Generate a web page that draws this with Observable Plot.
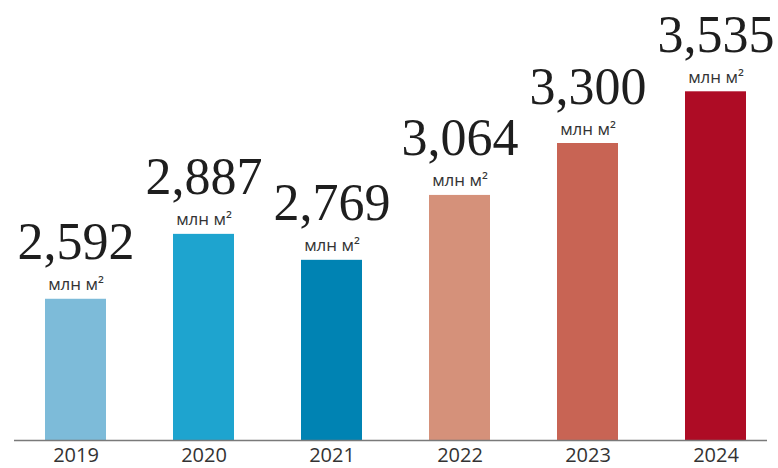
<!DOCTYPE html>
<html>
<head>
<meta charset="utf-8">
<script src="https://cdn.jsdelivr.net/npm/d3@7"></script>
<script src="https://cdn.jsdelivr.net/npm/@observablehq/plot@0.6"></script>
<style>
  html, body { margin: 0; padding: 0; background: #fff; }
  #chart svg { display: block; }
</style>
</head>
<body>
<div id="chart"></div>
<script>
// Data
const years  = ["2019", "2020", "2021", "2022", "2023", "2024"];
const values = [2.592, 2.887, 2.769, 3.064, 3.300, 3.535];   // млн м²
const unit   = "млн м²";

// Bar colours (style, kept apart from the data)
const palette = ["#7dbbd9", "#1ea4cf", "#0083b3", "#d5917a", "#c86454", "#ae0c25"];

const table = years.map((year, i) => ({ year, value: values[i] }));
const fmt = v => d3.format(".3f")(v).replace(".", ",");
const yMin = 1.95;

const chart = Plot.plot({
  width: 778,
  height: 468,
  marginTop: 0,
  marginBottom: 28,
  marginLeft: 19,
  marginRight: 6,
  style: { fontFamily: "'Open Sans', sans-serif", background: "#fff", color: "#333" },
  x: { domain: years, type: "band", paddingInner: 0.526, paddingOuter: 0.186, label: null },
  y: { domain: [yMin, 3.95], axis: null },
  color: { domain: years, range: palette },
  marks: [
    Plot.barY(table, { x: "year", y1: yMin, y2: "value", fill: "year" }),
    Plot.ruleY([yMin], { stroke: "#7a7a7a", strokeWidth: 1.5, insetLeft: -5, insetRight: 5 }),
    Plot.axisX({ tickSize: 0, tickPadding: 7, fontSize: 20, fill: "#333" }),
    Plot.text(table, {
      x: "year", y: "value", text: () => unit,
      dy: -9, lineAnchor: "bottom", fontSize: 17, fill: "#333",
      fontFamily: "'Open Sans', sans-serif"
    }),
    Plot.text(table, {
      x: "year", y: "value", text: d => fmt(d.value),
      dy: -40, lineAnchor: "bottom", fontSize: 52, fill: "#1e1e1e",
      fontFamily: "'Liberation Serif', serif"
    })
  ]
});

document.getElementById("chart").appendChild(chart);
</script>
</body>
</html>
